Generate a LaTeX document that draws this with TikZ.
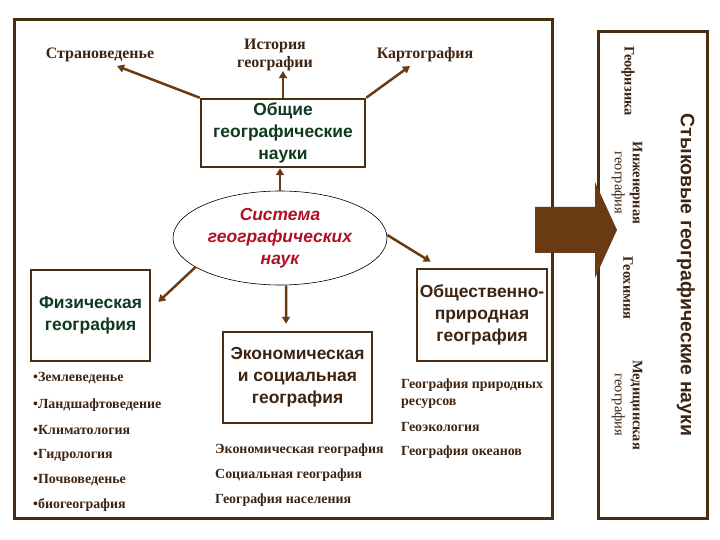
\documentclass[tikz,border=0pt]{standalone}
\usepackage{fontspec}
\setmainfont{Liberation Serif}
\newfontfamily\arialf{Liberation Sans}
\usetikzlibrary{arrows.meta,shapes.geometric}
\definecolor{brn}{HTML}{4A2E12}
\definecolor{arrc}{HTML}{6A3A12}
\definecolor{txtb}{HTML}{3E2410}
\definecolor{grn}{HTML}{0E3A1E}
\definecolor{redt}{HTML}{B01020}
\begin{document}
\begin{tikzpicture}[x=1bp,y=-1bp,
  frame/.style={draw=brn, line width=3bp},
  gbox/.style={draw=brn, line width=2.5bp, fill=white, inner sep=0pt, align=center,
     font=\arialf\bfseries\fontsize{17.5}{22}\selectfont},
  lnk/.style={draw=arrc, line width=2.5bp, -{Triangle[length=7bp,width=8bp]}},
  toplbl/.style={font=\bfseries\fontsize{16}{18}\selectfont, text=txtb, align=center, inner sep=0pt},
  item/.style={font=\bfseries\fontsize{14}{16.5}\selectfont, text=txtb, anchor=west, inner sep=0pt},
  vitem/.style={font=\fontsize{14.5}{18}\selectfont, text=txtb, rotate=-90, align=center, inner sep=0pt}
]
\useasboundingbox (0,0) rectangle (720,540);
% main frame and right panel
\draw[frame] (14,20) rectangle (552,518);
\draw[frame] (598,32) rectangle (707,518);

% top labels
\node[toplbl] (stran) at (100,55) {Страноведенье};
\node[toplbl] (ist) at (275,55) {История\\географии};
\node[toplbl] (kart) at (425,55) {Картография};

% boxes
\node[gbox, text=grn, minimum width=164bp, minimum height=68bp] (ob) at (283,133)
  {Общие\\географические\\науки};
\node[ellipse, draw=black, line width=0.6bp, minimum width=214bp, minimum height=94bp,
  inner sep=0pt, align=center, text=redt, font=\arialf\bfseries\itshape\fontsize{17.5}{22}\selectfont]
  (ell) at (280,238) {Система\\географических\\наук};
\node[gbox, text=grn, minimum width=119bp, minimum height=91bp] (fiz) at (90.5,315.5)
  {Физическая\\география};
\node[gbox, text=txtb, minimum width=149bp, minimum height=91bp] (eco) at (297.5,377.5)
  {Экономическая\\и социальная\\география};
\node[gbox, text=txtb, minimum width=130bp, minimum height=92bp] (obp) at (482,315)
  {Общественно-\\природная\\география};

% connectors
\draw[lnk] (ob.north west) -- ([xshift=17bp,yshift=-11bp]stran.center);
\draw[lnk] (ob.north) -- (ob.north |- ist.south);
\draw[lnk] (ob.north east) -- ([xshift=-15bp,yshift=-11bp]kart.center);
\draw[lnk] (ell.north) -- (ell.north |- ob.south);
\draw[lnk] (ell.199) -- ([xshift=7bp,yshift=13.5bp]fiz.east);
\draw[lnk] ([yshift=3bp]ell.east) -- ([xshift=15bp,yshift=6bp]obp.north west);
\draw[lnk] ([xshift=6bp]ell.south) -- ([xshift=-11.5bp,yshift=7bp]eco.north);

% lists
\node[item] (l1) at (33,378) {•Землеведенье};
\node[item] (l2) at (33,405) {•Ландшафтоведение};
\node[item] (l3) at (33,430) {•Климатология};
\node[item] (l4) at (33,455) {•Гидрология};
\node[item] (l5) at (33,480) {•Почвоведенье};
\node[item] (l6) at (33,505) {•биогеография};
\node[item] (m1) at (215,450) {Экономическая география};
\node[item] (m2) at (215,475) {Социальная география};
\node[item] (m3) at (215,500) {География населения};
\node[item, align=left] (r1) at (401,393.5) {География природных\\ресурсов};
\node[item] (r2) at (401,427) {Геоэкология};
\node[item] (r3) at (401,452) {География океанов};

% big arrow
\fill[arrc] (535,207) -- (595,207) -- (595,182) -- (617,230) -- (595,278) -- (595,253) -- (535,253) -- cycle;

% right panel texts
\node[font=\arialf\bfseries\fontsize{19.5}{22}\selectfont, text=txtb, rotate=-90, inner sep=0pt]
  (styk) at (686,275) {Стыковые географические науки};
\node[vitem] (v1) at (628,81) {\bfseries Геофизика};
\node[vitem] (v2) at (627,183) {\bfseries Инженерная\\география};
\node[vitem] (v3) at (628,288) {\bfseries Геохимия};
\node[vitem] (v4) at (627,405) {\bfseries Медицинская\\география};
\end{tikzpicture}
\end{document}
